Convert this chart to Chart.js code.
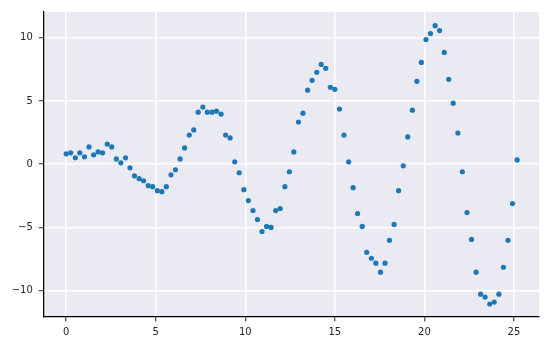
<!DOCTYPE html>
<html>
<head>
<meta charset="utf-8">
<script src="https://cdn.jsdelivr.net/npm/chart.js@4/dist/chart.umd.min.js"></script>
<style>
html,body{margin:0;padding:0;background:#fff;}
#wrap{width:549px;height:347px;}
</style>
</head>
<body>
<div id="wrap"><canvas id="c" width="549" height="347"></canvas></div>
<script>
const xValues = [0.00,0.25,0.51,0.76,1.02,1.27,1.53,1.78,2.03,2.29,2.54,2.80,3.05,3.31,3.56,3.81,4.07,4.32,4.58,4.83,
5.09,5.34,5.59,5.85,6.10,6.36,6.61,6.87,7.12,7.37,7.63,7.88,8.14,8.39,8.65,8.90,9.15,9.41,9.66,9.92,
10.17,10.43,10.68,10.93,11.19,11.44,11.70,11.95,12.21,12.46,12.71,12.97,13.22,13.48,13.73,13.99,14.24,14.49,14.75,15.00,
15.26,15.51,15.77,16.02,16.27,16.53,16.78,17.04,17.29,17.55,17.80,18.05,18.31,18.56,18.82,19.07,19.33,19.58,19.83,20.09,
20.34,20.60,20.85,21.11,21.36,21.61,21.87,22.12,22.38,22.63,22.89,23.14,23.39,23.65,23.90,24.16,24.41,24.67,24.92,25.18];
const yValues = [0.82,0.90,0.50,0.90,0.58,1.37,0.74,0.97,0.90,1.60,1.37,0.42,0.11,0.50,-0.29,-0.92,-1.15,-1.31,-1.70,-1.78,
-2.10,-2.18,-1.78,-0.84,-0.44,0.42,1.29,2.31,2.71,4.12,4.52,4.12,4.12,4.20,3.97,2.31,2.08,0.19,-0.68,-2.02,
-2.88,-3.67,-4.38,-5.33,-4.93,-5.01,-3.67,-3.51,-1.78,-0.60,0.97,3.34,4.04,5.86,6.64,7.27,7.90,7.59,6.09,5.93,
4.36,2.31,0.19,-1.86,-3.91,-4.93,-6.98,-7.45,-7.84,-8.55,-7.84,-6.03,-4.77,-2.10,-0.13,2.16,4.28,6.56,8.06,9.87,
10.34,10.97,10.58,8.85,6.72,4.83,2.47,-0.60,-3.83,-5.96,-8.55,-10.29,-10.52,-11.07,-10.92,-10.29,-8.16,-6.03,-3.12,0.34];
const xTicks = [0,5,10,15,20,25];
const yTicks = [-10,-5,0,5,10];

const points = xValues.map((x,i)=>({x:x, y:yValues[i]}));

const bgPlugin = {
  id:'bg',
  beforeDraw(chart){
    const {ctx, chartArea:a} = chart;
    ctx.save();
    ctx.fillStyle = '#EAEAF2';
    ctx.fillRect(a.left, a.top, a.right-a.left, a.bottom-a.top);
    ctx.restore();
  }
};

const fmt = v => (v < 0 ? '\u2212' + Math.abs(v) : String(v));

new Chart(document.getElementById('c'), {
  type:'scatter',
  data:{datasets:[{
    data:points,
    backgroundColor:'#1f77b4',
    borderWidth:0,
    pointRadius:2.6,
    pointHoverRadius:2.6
  }]},
  options:{
    responsive:false,
    animation:false,
    devicePixelRatio:1,
    layout:{padding:{top:9,right:10,left:0,bottom:0}},
    plugins:{legend:{display:false},tooltip:{enabled:false}},
    scales:{
      x:{
        type:'linear',
        min:-1.28, max:26.4,
        afterBuildTicks(s){ s.ticks = xTicks.map(v=>({value:v})); },
        afterFit(s){ s.height = 30; },
        grid:{color:'#ffffff', lineWidth:1.5, tickColor:'#262626', tickLength:4.5, tickWidth:1},
        border:{display:true, color:'#000000', width:1.25},
        ticks:{color:'#262626', font:{family:'DejaVu Sans', size:10}, padding:5, callback:v=>fmt(v), maxRotation:0}
      },
      y:{
        type:'linear',
        min:-12.1, max:12.05,
        afterBuildTicks(s){ s.ticks = yTicks.map(v=>({value:v})); },
        afterFit(s){ s.width = 43.3; },
        grid:{color:'#ffffff', lineWidth:1.5, tickColor:'#262626', tickLength:4.5, tickWidth:1},
        border:{display:true, color:'#000000', width:1.25},
        ticks:{color:'#262626', font:{family:'DejaVu Sans', size:10}, padding:6, callback:v=>fmt(v)}
      }
    }
  },
  plugins:[bgPlugin]
});
</script>
</body>
</html>
